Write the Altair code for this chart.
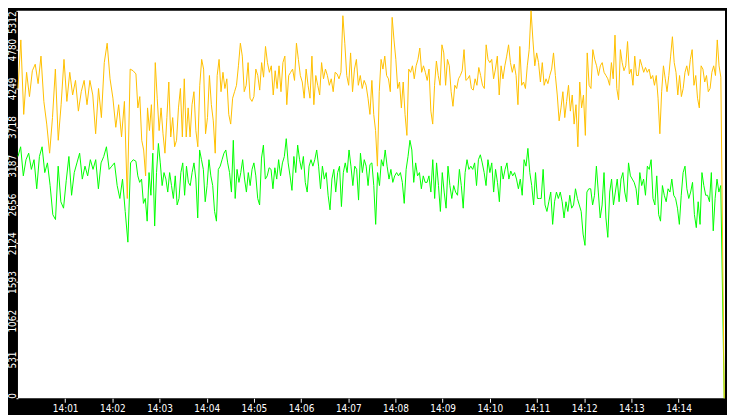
import altair as alt
import pandas as pd

# Values, grouped by 150-second strips (14:00:00 .. 14:15:00)
yellow_1 = [4247, 4913, 3892, 4469, 4136, 4491, 4580, 4314, 4691, 4070, 3759, 3360, 3848, 4513,
            3537, 4025, 4646, 4070, 4469, 4158, 4358, 3937, 4203, 4358, 4025, 4358, 4158, 3626,
            4247, 3848, 4602, 4868, 4380, 4114, 3715, 4025, 3582, 4070, 2739, 4513, 4491]
yellow_2 = [4447, 3981, 4136, 3537, 3404, 3049, 3981, 3670, 4025, 3404, 4602, 4114, 3670, 3981,
            3626, 3360, 3848, 4336, 3582, 3848, 3448, 3537, 3981, 4247, 3582, 4380, 3582, 3981,
            3582, 4025, 4203, 3670, 3448, 4291, 4646, 4513, 3626, 3848, 4425, 4025, 3803, 3360,
            4425, 4646, 4203, 4469, 4247, 4380, 3892, 3759, 4114, 4203, 4291, 4558, 4868, 4691,
            4203, 4291, 4602, 4114, 4070]
yellow_3 = [4136, 4513, 4425, 4225, 4602, 4402, 4824, 4602, 4469, 4558, 4158, 4491, 4247, 4558,
            4203, 4602, 4691, 4025, 4425, 4469, 4513, 4358, 4868, 4646, 4425, 4336, 4114, 4513,
            4291, 4114, 4691, 4025, 4425, 4291, 4158, 4602, 4380, 4513, 4425, 4291, 4380, 4203,
            4469, 4447, 4380, 4469, 5245, 4868, 4425, 4291, 4735, 4203, 4513, 4646, 4291, 4425,
            4247, 4358, 4291, 4114, 3892]
yellow_4 = [4358, 3892, 3670, 3182, 4203, 4646, 4513, 4691, 4425, 4380, 4203, 5223, 4913, 4646,
            4247, 4336, 3981, 4336, 3892, 3604, 4513, 4469, 4558, 4380, 4558, 4646, 4802, 4469,
            4558, 4469, 4358, 4513, 3937, 3759, 4291, 4624, 4425, 4291, 4846, 4735, 4291, 4646,
            4558, 4203, 4003, 4291, 4247, 4380, 4425, 4491, 4780, 4358, 4380, 4425, 4247, 4225,
            4380, 4291, 4535, 4425, 4291, 4247, 4846, 4646]
yellow_5 = [4602, 4646, 4380, 4513, 4691, 4158, 4558, 4380, 4558, 4691, 4846, 4602, 4469, 4580,
            4425, 4025, 4824, 4291, 4336, 4247, 4558, 4780, 5312, 4913, 4558, 4735, 4602, 4336,
            4602, 4291, 4380, 4314, 4425, 4513, 4735, 4425, 4158, 3803, 3981, 4203, 3848, 4070,
            4291, 3937, 4158, 3759, 4025, 3448, 4336, 3981, 4158, 3604, 4735, 4291, 4247, 4780,
            4646, 4558, 4425, 4558, 4602, 4469, 4425]
yellow_6 = [4380, 4291, 4602, 4380, 4979, 4247, 4092, 4780, 4602, 4491, 4558, 4891, 4447, 4513,
            4291, 4691, 4425, 4425, 4646, 4558, 4469, 4535, 4469, 4513, 4380, 4425, 4291, 4425,
            4114, 3626, 4203, 4558, 4380, 4203, 4425, 4691, 4957, 4602, 4469, 4158, 4425, 4136,
            4247, 4469, 4558, 4425, 4646, 4780, 4291, 4425, 4114, 3981, 4558, 4513, 4336, 4425,
            4203, 4247, 4469, 4558, 4425, 4913, 4558, 4402]

green_1 = [3315, 3448, 3049, 3271, 3360, 3138, 3271, 2872, 3315, 3448, 3094, 3227, 2916, 2517,
           2450, 3182, 2694, 2606, 2983, 3315, 2783, 3094, 3227, 3360, 3005, 3182, 3049, 3271,
           3138, 3271, 2872, 3227, 3315, 3448, 3138, 3182, 3227, 2916, 2739, 3005, 2561, 2140,
           3227, 3271]
green_2 = [3249, 3049, 2960, 3005, 2672, 2739, 2428, 3094, 2783, 3360, 2361, 3094, 3493, 3227,
           2916, 3094, 3005, 2827, 3094, 2916, 2739, 3049, 2650, 2739, 3094, 3227, 2783, 3182,
           2960, 2916, 3094, 3227, 3005, 2472, 3404, 3271, 3138, 2694, 2916, 3271, 3049, 2916,
           2561, 2428, 3138, 3182, 3271, 3360, 3404, 3227, 3094, 2827, 3537, 2739, 3138, 2960,
           3094, 3271, 3005, 2827, 3094, 2916, 3138]
green_3 = [3227, 3049, 2739, 2650, 3293, 3471, 3005, 3049, 3160, 3138, 2872, 3160, 3005, 3271,
           3049, 3227, 3315, 3559, 3227, 3049, 2850, 3315, 3094, 3471, 3271, 3138, 3315, 2960,
           2827, 3182, 3271, 3182, 3271, 3404, 3182, 2872, 3182, 3005, 3094, 2783, 2583, 3005,
           3138, 2827, 3094, 3182, 2628, 3094, 3227, 3094, 3404, 3182, 2916, 3182, 3138, 2717,
           3360, 3094, 3271, 3182, 2916, 3205]
green_4 = [3227, 2916, 2384, 3094, 2916, 3271, 3182, 3404, 3182, 3005, 3138, 2960, 3049, 3094,
           3049, 3094, 2960, 2672, 3138, 3315, 3537, 3404, 2960, 3227, 3049, 3094, 2872, 3049,
           2960, 2960, 3049, 2827, 3271, 2739, 3227, 2916, 2561, 3094, 2827, 2606, 3182, 2916,
           2739, 2916, 2827, 2783, 3138, 2916, 2606, 3094, 3271, 3138, 3182, 3138, 3227, 2916,
           3271, 3338, 3227, 3094, 2916, 3271]
green_5 = [3094, 3227, 2827, 3138, 2960, 2694, 3182, 3005, 3138, 3227, 3005, 3116, 3049, 3094,
           3005, 2872, 3005, 2783, 3271, 3182, 3426, 3094, 2916, 2650, 3094, 2739, 2739, 2739,
           3138, 2650, 2561, 2694, 2827, 2384, 2694, 2827, 2739, 2827, 2694, 2472, 2694, 2561,
           2783, 2606, 2650, 2872, 2739, 2650, 2561, 2251, 2096, 2827, 2872, 2872, 2650, 2783,
           3182, 2827, 2472, 2650, 3094, 2472]
green_6 = [2206, 2827, 3005, 2650, 2827, 3005, 2694, 3005, 3094, 2827, 2694, 3227, 3049, 3005,
           2960, 2872, 2650, 3094, 2916, 3005, 2783, 3182, 3138, 3271, 2739, 2650, 3049, 2517,
           2428, 2916, 2783, 2694, 2872, 2827, 3005, 2783, 2739, 2606, 2384, 2783, 3094, 3182,
           2872, 2739, 2827, 2960, 2517, 2339, 2694, 2384, 3094, 2916, 2783, 2783, 2694, 3094,
           2295, 2739, 3005, 2827, 2916]

strip_spans = [150, 150, 150, 150, 150, 146]
end_value = 0
end_time = 898

y_ticks = [k * 531.2 for k in range(11)]
x_ticks = [60 * m for m in range(1, 15)]


def build(strips, name):
    rows = []
    for k, vals in enumerate(strips):
        span = strip_spans[k]
        for j, v in enumerate(vals):
            rows.append({"t": 150 * k + j * span / len(vals), "v": v, "s": name})
    rows.append({"t": end_time, "v": end_value, "s": name})
    return pd.DataFrame(rows)


df_y = build([yellow_1, yellow_2, yellow_3, yellow_4, yellow_5, yellow_6], "yellow")
df_g = build([green_1, green_2, green_3, green_4, green_5, green_6], "green")

FONT = "DejaVu Sans Condensed, DejaVu Sans"

x_enc = alt.X(
    "t:Q",
    scale=alt.Scale(domain=[0, 899], nice=False, zero=False),
    axis=alt.Axis(
        values=x_ticks, title=None, domain=False, grid=False,
        tickColor="white", tickSize=4, tickWidth=1,
        labelColor="white", labelFont=FONT, labelFontSize=10, labelPadding=1,
        labelExpr="'14:' + (datum.value/60 < 10 ? '0' : '') + (datum.value/60)",
        minExtent=16, maxExtent=16,
    ),
)
y_enc = alt.Y(
    "v:Q",
    scale=alt.Scale(domain=[0, 5312], nice=False),
    axis=alt.Axis(
        values=y_ticks, title=None, domain=False, grid=False,
        tickColor="white", tickSize=2, tickWidth=1,
        labelColor="white", labelFont=FONT, labelFontSize=10, labelPadding=0,
        labelAngle=-90, labelBaseline="alphabetic",
        labelAlign={"condition": [{"test": "datum.value <= 0", "value": "left"},
                                  {"test": "datum.value >= 5300", "value": "right"}],
                    "value": "center"},
        labelExpr="floor(datum.value)",
        minExtent=9, maxExtent=9,
    ),
)

green_line = alt.Chart(df_g).mark_line(color="#00FF00", strokeWidth=1).encode(x=x_enc, y=y_enc)
yellow_line = alt.Chart(df_y).mark_line(color="#FFC000", strokeWidth=1).encode(x=x_enc, y=y_enc)

chart = (
    alt.layer(green_line, yellow_line)
    .properties(width=710, height=389, padding=0, background="black")
    .configure_view(fill="white", strokeWidth=0)
)

chart.save("out.html", embed_options={"renderer": "svg", "actions": False})
